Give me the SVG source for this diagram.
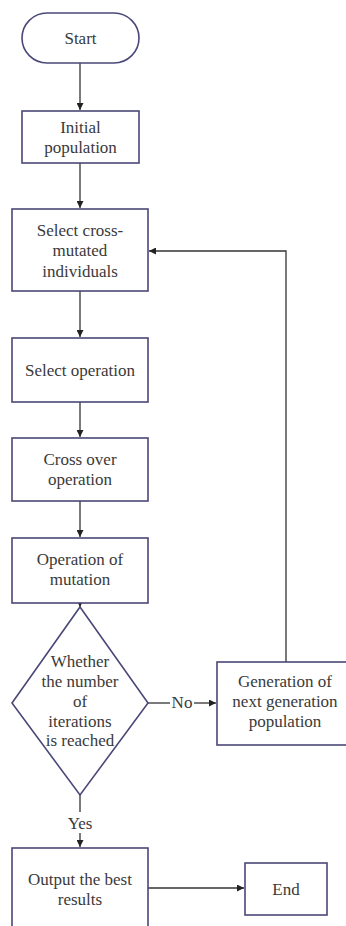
<svg xmlns="http://www.w3.org/2000/svg" width="346" height="926" viewBox="0 0 346 926">
<style>
.n{fill:#fff;stroke:#4a4878;stroke-width:1.6}
.t{font-family:"Liberation Serif","DejaVu Serif",serif;font-size:17px;fill:#3a3a3a;text-anchor:middle}
.c{fill:none;stroke:#333;stroke-width:1.3}
</style>
<defs>
<marker id="a" viewBox="0 0 10 10" refX="10" refY="5" markerWidth="7" markerHeight="7" orient="auto" markerUnits="userSpaceOnUse">
<path d="M0,0L10,5L0,10z" fill="#222"/>
</marker>
</defs>
<rect width="346" height="926" fill="#fff"/>
<g id="connectors">
<path class="c" d="M80,63V110" marker-end="url(#a)"/>
<path class="c" d="M80,163V208" marker-end="url(#a)"/>
<path class="c" d="M80,291V337" marker-end="url(#a)"/>
<path class="c" d="M80,402V437" marker-end="url(#a)"/>
<path class="c" d="M80,501V537" marker-end="url(#a)"/>
<path class="c" d="M80,603V607" marker-end="url(#a)"/>
<path class="c" d="M148,703H170"/>
<path class="c" d="M194,703H216" marker-end="url(#a)"/>
<path class="c" d="M286,662V251H149" marker-end="url(#a)"/>
<path class="c" d="M80,795V812"/>
<path class="c" d="M80,833V847" marker-end="url(#a)"/>
<path class="c" d="M148,888H244" marker-end="url(#a)"/>
<text class="t" x="182" y="708">No</text>
<text class="t" x="80" y="829">Yes</text>
</g>
<g id="start">
<rect class="n" x="22" y="13" width="117" height="50" rx="25"/>
<text class="t" x="80.5" y="44">Start</text>
</g>
<g id="init">
<rect class="n" x="22" y="111" width="117" height="52"/>
<text class="t" x="80.5" y="133">Initial</text>
<text class="t" x="80.5" y="153">population</text>
</g>
<g id="selcross">
<rect class="n" x="12" y="209" width="136" height="82"/>
<text class="t" x="80" y="236">Select cross-</text>
<text class="t" x="80" y="256">mutated</text>
<text class="t" x="80" y="277">individuals</text>
</g>
<g id="selop">
<rect class="n" x="12" y="338" width="136" height="64"/>
<text class="t" x="80" y="376">Select operation</text>
</g>
<g id="cross">
<rect class="n" x="12" y="438" width="136" height="63"/>
<text class="t" x="80" y="465">Cross over</text>
<text class="t" x="80" y="485">operation</text>
</g>
<g id="mut">
<rect class="n" x="12" y="538" width="136" height="65"/>
<text class="t" x="80" y="565">Operation of</text>
<text class="t" x="80" y="585">mutation</text>
</g>
<g id="decision">
<path class="n" d="M80,607L148,703L80,795L12,703Z"/>
<text class="t" x="80" y="667">Whether</text>
<text class="t" x="80" y="687">the number</text>
<text class="t" x="80" y="707">of</text>
<text class="t" x="80" y="727">iterations</text>
<text class="t" x="80" y="746">is reached</text>
</g>
<g id="nextgen">
<rect class="n" x="217" y="662" width="135" height="83"/>
<text class="t" x="285" y="687">Generation of</text>
<text class="t" x="285" y="707">next generation</text>
<text class="t" x="285" y="727">population</text>
</g>
<g id="output">
<rect class="n" x="12" y="848" width="136" height="85"/>
<text class="t" x="80" y="885">Output the best</text>
<text class="t" x="80" y="905">results</text>
</g>
<g id="end">
<rect class="n" x="245" y="863" width="82" height="52"/>
<text class="t" x="286" y="895">End</text>
</g>
</svg>
